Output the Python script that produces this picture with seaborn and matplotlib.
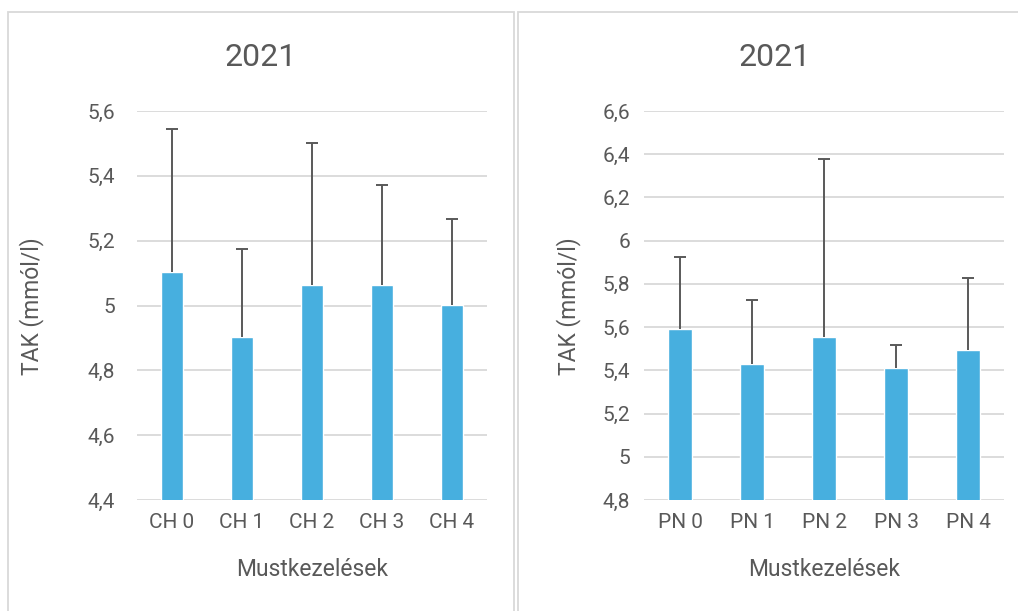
import numpy as np
import pandas as pd
import matplotlib
matplotlib.use("Agg")
import matplotlib.pyplot as plt
import seaborn as sns
from matplotlib.patches import Rectangle
from matplotlib.ticker import FuncFormatter, MultipleLocator

# adatok (leolvasva az ábráról)
ch_labels = ["CH 0", "CH 1", "CH 2", "CH 3", "CH 4"]
ch_values = [5.104, 4.902, 5.063, 5.063, 5.002]
ch_err = [0.44, 0.273, 0.438, 0.31, 0.265]

pn_labels = ["PN 0", "PN 1", "PN 2", "PN 3", "PN 4"]
pn_values = [5.59, 5.43, 5.555, 5.411, 5.494]
pn_err = [0.333, 0.295, 0.822, 0.107, 0.332]

title = "2021"
ylabel = "TAK (mmól/l)"
xlabel = "Mustkezelések"

sns.set_style("white")
plt.rcParams['font.family'] = ['Roboto', 'DejaVu Sans']

txt = "#595959"
bar_color = "#47AFDF"
grid_color = "#D9D9D9"

W, H = 1018, 611
fig = plt.figure(figsize=(W / 100, H / 100), dpi=100)

# a két Excel-diagram kerete
fig.patches.append(Rectangle((8 / W, -0.1), 506 / W, 1.1 - 12 / H,
                             transform=fig.transFigure, fill=False,
                             edgecolor="#D9D9D9", linewidth=1.3))
fig.patches.append(Rectangle((518 / W, -0.1), 0.6, 1.1 - 12 / H,
                             transform=fig.transFigure, fill=False,
                             edgecolor="#D9D9D9", linewidth=1.3))


def fmt_comma(v, pos):
    s = f"{v:.1f}".rstrip("0").rstrip(".")
    return s.replace(".", ",")


def panel(rect, labels, values, err, ymin, ymax, bar_w, title_x, ylab_x, ypad):
    ax = fig.add_axes(rect)
    df = pd.DataFrame({"kezeles": labels, "ertek": values})
    sns.barplot(data=df, x="kezeles", y="ertek", color=bar_color,
                width=bar_w, saturation=1, ax=ax, zorder=2)
    eb = ax.errorbar(np.arange(len(values)), values,
                     yerr=[np.zeros(len(err)), err], fmt="none",
                     ecolor="#595959", elinewidth=1.4, capsize=4.5,
                     capthick=1.4, zorder=3)
    # csak felfelé mutató hibasáv
    eb[1][0].set_visible(False)
    ax.set_ylim(ymin, ymax)
    ax.set_xlim(-0.5, len(values) - 0.5)
    ax.yaxis.set_major_locator(MultipleLocator(0.2))
    ax.yaxis.set_major_formatter(FuncFormatter(fmt_comma))
    ax.grid(axis="y", color=grid_color, linewidth=1.3, zorder=0)
    ax.set_axisbelow(True)
    for s in ax.spines.values():
        s.set_visible(False)
    ax.tick_params(axis="both", length=0, colors=txt, labelsize=15)
    ax.tick_params(axis="y", pad=ypad)
    ax.tick_params(axis="x", pad=9)
    ax.set_xlabel("")
    ax.set_ylabel("")
    cx = (rect[0] + rect[2] / 2)
    fig.text(title_x / W, 1 - 57 / H, title, fontsize=23, color=txt,
             ha="center", va="center")
    fig.text(cx, 1 - 570 / H, xlabel, fontsize=16.5, color=txt,
             ha="center", va="center")
    fig.text(ylab_x / W, 1 - 306 / H, ylabel, fontsize=16.5, color=txt,
             ha="center", va="center", rotation=90)
    return ax


panel([137 / W, 111 / H, 350 / W, 389 / H],
      ch_labels, ch_values, ch_err, 4.4, 5.6, 0.31, 261, 32, 16)
panel([644 / W, 111 / H, 360 / W, 389 / H],
      pn_labels, pn_values, pn_err, 4.8, 6.6, 0.32, 775, 569, 10)

fig.savefig("out.png", dpi=100)
